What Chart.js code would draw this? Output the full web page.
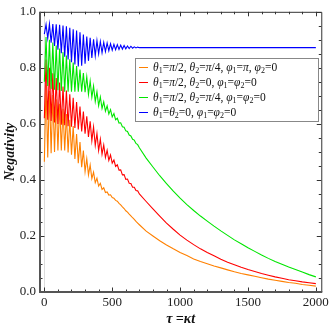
<!DOCTYPE html>
<html>
<head>
<meta charset="utf-8">
<script src="https://cdn.jsdelivr.net/npm/chart.js@4.4.1/dist/chart.umd.min.js"></script>
<style>
  html, body { margin: 0; padding: 0; background: #fff; }
</style>
</head>
<body>
<canvas id="grafico" width="332" height="330"></canvas>
<script>
// tempo adimensional: passo fino na parte oscilante, passo largo depois
const tau = [
  0, 12.5, 25, 37.5, 50, 62.5, 75, 87.5, 100, 112.5, 125, 137.5, 150, 162.5, 175, 187.5,
  200, 212.5, 225, 237.5, 250, 262.5, 275, 287.5, 300, 312.5, 325, 337.5, 350, 362.5, 375, 387.5,
  400, 412.5, 425, 437.5, 450, 462.5, 475, 487.5, 500, 512.5, 525, 537.5, 550, 562.5, 575, 587.5,
  600, 612.5, 625, 637.5, 650, 662.5, 675, 687.5, 700,
  750, 800, 850, 900, 950, 1000, 1050, 1100, 1150, 1200, 1250, 1300, 1350, 1400, 1450, 1500,
  1550, 1600, 1650, 1700, 1750, 1800, 1850, 1900, 1950, 2000
];

const negLaranja = [
  .465, .74, .48, .718, .495, .703, .50, .688, .505, .672, .505, .654, .505, .635, .498, .615,
  .49, .592, .475, .564, .46, .535, .445, .505, .43, .476, .418, .453, .405, .428, .39, .406,
  .378, .388, .366, .372, .355, .357, .346, .347, .337, .335, .327, .324, .316, .311, .304, .298,
  .29, .285, .278, .272, .265, .259, .252, .246, .24,
  .217, .20, .183, .168, .154, .141, .13, .118, .109, .101, .093, .086, .079, .072, .066, .061,
  .056, .051, .046, .042, .038, .034, .031, .027, .024, .021
];

const negVermelho = [
  .62, .83, .615, .80, .61, .781, .605, .764, .60, .748, .597, .733, .595, .719, .592, .706,
  .59, .693, .585, .678, .58, .662, .573, .644, .565, .627, .553, .609, .54, .589, .523, .566,
  .505, .545, .492, .525, .48, .506, .47, .489, .46, .471, .448, .454, .435, .436, .418, .419,
  .402, .403, .388, .387, .374, .374, .362, .361, .35,
  .323, .297, .271, .246, .224, .203, .185, .169, .154, .141, .129, .117, .106, .097, .088, .08,
  .073, .066, .06, .054, .049, .044, .04, .036, .033, .03
];

const negVerde = [
  .75, .91, .735, .90, .725, .89, .722, .88, .72, .869, .717, .856, .715, .844, .715, .831,
  .715, .819, .715, .806, .715, .794, .715, .781, .713, .768, .705, .753, .695, .735, .68, .715,
  .665, .696, .655, .679, .645, .664, .635, .651, .625, .637, .615, .62, .603, .604, .59, .588,
  .575, .573, .56, .557, .545, .542, .53, .526, .515,
  .478, .446, .415, .387, .36, .335, .312, .291, .271, .253, .235, .218, .202, .186, .172, .158,
  .145, .132, .12, .109, .099, .089, .08, .071, .062, .054
];

const negAzul = [
  .92, .955, .905, .956, .89, .956, .878, .955, .865, .954, .852, .951, .84, .948, .83, .943,
  .82, .938, .812, .933, .805, .927, .808, .919, .815, .912, .825, .907, .835, .902, .843, .897,
  .85, .894, .854, .891, .858, .889, .861, .886, .863, .884, .865, .883, .866, .881, .867, .88,
  .868, .878, .869, .877, .87, .875, .871, .874, .872,
  .872, .872, .872, .872, .872, .872, .872, .872, .872, .872, .872, .872, .872, .872, .872, .872,
  .872, .872, .872, .872, .872, .872, .872, .872, .872, .872
];

const rotulos = [
  'θ_1=π/2, θ_2=π/4, φ_1=π, φ_2=0',
  'θ_1=π/2, θ_2=0, φ_1=φ_2=0',
  'θ_1=π/2, θ_2=π/4, φ_1=φ_2=0',
  'θ_1=θ_2=0, φ_1=φ_2=0'
];
const cores = ['#ff8000', '#ff0000', '#00e600', '#0000ff'];
const series = [negLaranja, negVermelho, negVerde, negAzul];

const xTicks = [0, 500, 1000, 1500, 2000];
const yTicks = [0, 0.2, 0.4, 0.6, 0.8, 1.0];

const serif = "'Liberation Serif', 'DejaVu Serif', serif";

// escreve texto com subscritos (_1) e letras gregas em italico
function escreveRotulo(ctx, texto, x, y) {
  let cx = x;
  for (let i = 0; i < texto.length; i++) {
    let ch = texto[i];
    if (ch === '_') {
      ch = texto[++i];
      ctx.font = '8px ' + serif;
      ctx.fillText(ch, cx, y + 3);
      cx += ctx.measureText(ch).width;
      continue;
    }
    ctx.font = ('θφπ'.includes(ch) ? 'italic ' : '') + '11.5px ' + serif;
    ctx.fillText(ch, cx, y);
    cx += ctx.measureText(ch).width;
  }
}

const moldura = {
  id: 'moldura',
  beforeDatasetsDraw(chart) {
    const { ctx, chartArea: a, scales: { x } } = chart;
    const x0 = Math.round(x.getPixelForValue(0)) + 0.5;
    ctx.save();
    ctx.strokeStyle = '#dcdcdc';
    ctx.lineWidth = 1;
    ctx.beginPath();
    ctx.moveTo(x0, a.top);
    ctx.lineTo(x0, a.bottom);
    ctx.stroke();
    ctx.restore();
  },
  afterDatasetsDraw(chart) {
    const { ctx, chartArea: a, scales: { x, y } } = chart;
    ctx.save();
    ctx.strokeStyle = '#333';
    ctx.lineWidth = 1;
    ctx.beginPath();
    // marcas do eixo y (esquerda e direita)
    for (let v = 0; v <= 1.0001; v += 0.05) {
      const py = Math.round(y.getPixelForValue(v)) + 0.5;
      const major = Math.abs(v * 5 - Math.round(v * 5)) < 1e-6;
      const len = major ? 4.5 : 2.5;
      ctx.moveTo(a.left, py); ctx.lineTo(a.left + len, py);
      ctx.moveTo(a.right, py); ctx.lineTo(a.right - len, py);
    }
    // marcas do eixo x (baixo e cima)
    for (let v = 0; v <= 2000; v += 100) {
      const px = Math.round(x.getPixelForValue(v)) + 0.5;
      const len = v % 500 === 0 ? 4.5 : 2.5;
      ctx.moveTo(px, a.bottom); ctx.lineTo(px, a.bottom - len);
      ctx.moveTo(px, a.top); ctx.lineTo(px, a.top + len);
    }
    ctx.stroke();
    ctx.beginPath();
    ctx.moveTo(a.left, a.top + 0.5); ctx.lineTo(a.right + 0.5, a.top + 0.5);
    ctx.lineTo(a.right + 0.5, a.bottom);
    ctx.stroke();
    ctx.strokeStyle = '#555';
    ctx.lineWidth = 2;
    ctx.beginPath();
    ctx.moveTo(a.left, a.top); ctx.lineTo(a.left, a.bottom); ctx.lineTo(a.right + 1, a.bottom);
    ctx.stroke();
    ctx.restore();
  },
  afterDraw(chart) {
    const ctx = chart.ctx;
    const bx = 135.5, by = 58.5, bw = 183, bh = 63;
    ctx.save();
    ctx.fillStyle = '#fff';
    ctx.fillRect(bx, by, bw, bh);
    ctx.strokeStyle = '#888';
    ctx.lineWidth = 1;
    ctx.strokeRect(bx, by, bw, bh);
    ctx.textBaseline = 'middle';
    ctx.fillStyle = '#111';
    rotulos.forEach((r, i) => {
      const ly = 67.5 + i * 15;
      ctx.strokeStyle = cores[i];
      ctx.beginPath();
      ctx.moveTo(139, ly); ctx.lineTo(148, ly);
      ctx.stroke();
      escreveRotulo(ctx, r, 153, ly);
    });
    ctx.restore();
  }
};

const datasets = series.map((s, i) => ({
  label: rotulos[i],
  data: tau.map((t, k) => ({ x: t, y: s[k] })),
  borderColor: cores[i],
  borderWidth: 1.1,
  pointRadius: 0,
  tension: 0,
  order: 3 - i
}));

new Chart(document.getElementById('grafico').getContext('2d'), {
  type: 'line',
  data: { datasets },
  options: {
    responsive: false,
    animation: false,
    devicePixelRatio: 1,
    layout: { padding: { top: 7, right: 8, left: 0, bottom: 0 }, autoPadding: false },
    plugins: { legend: { display: false }, tooltip: { enabled: false } },
    scales: {
      x: {
        type: 'linear',
        min: -32,
        max: 2040,
        grid: { display: false, drawTicks: false },
        border: { display: false },
        afterBuildTicks: s => { s.ticks = xTicks.map(v => ({ value: v })); },
        afterFit: s => { s.height = 38; },
        ticks: {
          autoSkip: false, maxRotation: 0, padding: 3, color: '#222',
          font: { family: serif, size: 13 },
          callback: v => String(v)
        },
        title: {
          display: true, text: 'τ =κt', color: '#111',
          font: { family: serif, size: 14, style: 'italic', weight: 'bold' },
          padding: { top: 0, bottom: 2 }
        }
      },
      y: {
        min: 0,
        max: 1,
        grid: { display: false, drawTicks: false },
        border: { display: false },
        afterBuildTicks: s => { s.ticks = yTicks.map(v => ({ value: v })); },
        afterFit: s => { s.width = 40; },
        ticks: {
          padding: 4, color: '#222',
          font: { family: serif, size: 13 },
          callback: v => v.toFixed(1)
        },
        title: {
          display: true, text: 'Negativity', color: '#111',
          font: { family: serif, size: 14, style: 'italic', weight: 'bold' },
          padding: { top: 2, bottom: 0 }
        }
      }
    }
  },
  plugins: [moldura]
});
</script>
</body>
</html>
